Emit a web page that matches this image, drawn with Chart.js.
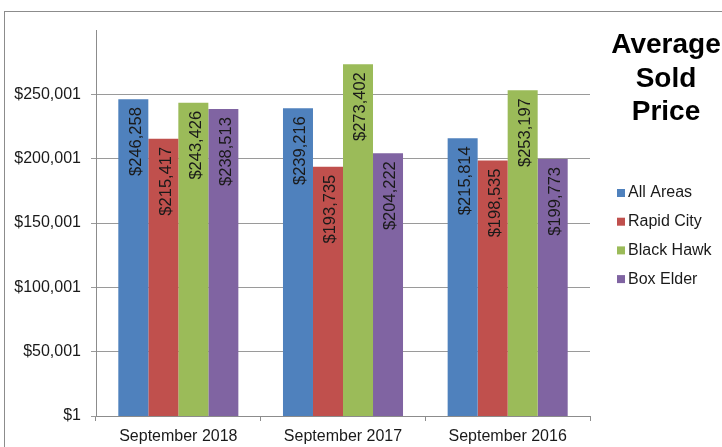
<!DOCTYPE html>
<html>
<head>
<meta charset="utf-8">
<script src="https://cdn.jsdelivr.net/npm/chart.js@4.4.1/dist/chart.umd.min.js"></script>
<style>
  html, body { margin: 0; padding: 0; background: #ffffff; }
  #wrap { width: 722px; height: 447px; position: relative; }
</style>
</head>
<body>
<div id="wrap"><canvas id="c" width="722" height="447"></canvas></div>
<script>
const categories = ['September 2018', 'September 2017', 'September 2016'];
const seriesNames = ['All Areas', 'Rapid City', 'Black Hawk', 'Box Elder'];
const allAreas  = [246258, 239216, 215814];
const rapidCity = [215417, 193735, 198535];
const blackHawk = [243426, 273402, 253197];
const boxElder  = [238513, 204222, 199773];
const yTickValues = [1, 50001, 100001, 150001, 200001, 250001];
const yMin = 1;
const yMax = 300001;
const titleLines = ['Average', 'Sold', 'Price'];
const colors = ['#4F81BD', '#C0504D', '#9BBB59', '#8064A2'];

const FONT = '"Liberation Sans", Arial, sans-serif';
const fmt = v => '$' + Number(v).toLocaleString('en-US');

const seriesValues = [allAreas, rapidCity, blackHawk, boxElder];

const decor = {
  id: 'decor',
  beforeDraw(chart) {
    const ctx = chart.ctx;
    ctx.save();
    ctx.fillStyle = '#ffffff';
    ctx.fillRect(0, 0, chart.width, chart.height);
    ctx.strokeStyle = '#8c8c8c';
    ctx.lineWidth = 1;
    ctx.strokeRect(4.5, 11.5, 900, 600);
    ctx.restore();
  },
  afterDatasetsDraw(chart) {
    const ctx = chart.ctx;
    ctx.save();
    ctx.font = '16.5px ' + FONT;
    ctx.fillStyle = '#1a1a1a';
    ctx.textAlign = 'right';
    ctx.textBaseline = 'alphabetic';
    chart.data.datasets.forEach((ds, i) => {
      const meta = chart.getDatasetMeta(i);
      meta.data.forEach((bar, j) => {
        ctx.save();
        ctx.translate(bar.x + 7.4, bar.y + 8);
        ctx.rotate(-Math.PI / 2);
        ctx.fillText(fmt(ds.data[j]), 0, 0);
        ctx.restore();
      });
    });
    ctx.restore();
  },
  afterDraw(chart) {
    const ctx = chart.ctx;
    ctx.save();
    // title
    ctx.font = 'bold 28px ' + FONT;
    ctx.fillStyle = '#000000';
    ctx.textAlign = 'center';
    ctx.textBaseline = 'alphabetic';
    titleLines.forEach((t, i) => ctx.fillText(t, 666, 53 + i * 33.5));
    // legend
    ctx.font = '16px ' + FONT;
    ctx.textAlign = 'left';
    ctx.textBaseline = 'middle';
    chart.data.datasets.forEach((ds, i) => {
      const cy = 193 + i * 28.7;
      ctx.fillStyle = ds.backgroundColor;
      ctx.fillRect(617, cy - 4, 8, 8);
      ctx.fillStyle = '#1a1a1a';
      ctx.fillText(ds.label, 628, cy);
    });
    ctx.restore();
  }
};

new Chart(document.getElementById('c'), {
  type: 'bar',
  data: {
    labels: categories,
    datasets: seriesNames.map((name, i) => ({
      label: name,
      data: seriesValues[i],
      backgroundColor: colors[i],
      borderWidth: 0,
      barPercentage: 1,
      categoryPercentage: 0.729
    }))
  },
  options: {
    responsive: false,
    devicePixelRatio: 1,
    animation: false,
    layout: { padding: { left: 0, top: 30, right: 132, bottom: 0 } },
    plugins: {
      legend: { display: false },
      title: { display: false },
      tooltip: { enabled: false }
    },
    scales: {
      x: {
        offset: true,
        grid: { display: true, drawOnChartArea: false, drawTicks: true, tickLength: 5, color: '#8c8c8c' },
        border: { display: true, color: '#8c8c8c', width: 1 },
        ticks: { font: { family: FONT, size: 16 }, color: '#1a1a1a', padding: 6, maxRotation: 0 },
        afterFit(scale) { scale.height = 31; }
      },
      y: {
        min: yMin,
        max: yMax,
        grid: { color: '#9a9a9a', drawTicks: true, tickLength: 5 },
        border: { display: true, color: '#8c8c8c', width: 1 },
        ticks: { font: { family: FONT, size: 16 }, color: '#1a1a1a', padding: 10, callback: v => fmt(v) },
        afterBuildTicks(scale) { scale.ticks = yTickValues.map(v => ({ value: v })); },
        afterFit(scale) { scale.width = 96; }
      }
    }
  },
  plugins: [decor]
});
</script>
</body>
</html>
